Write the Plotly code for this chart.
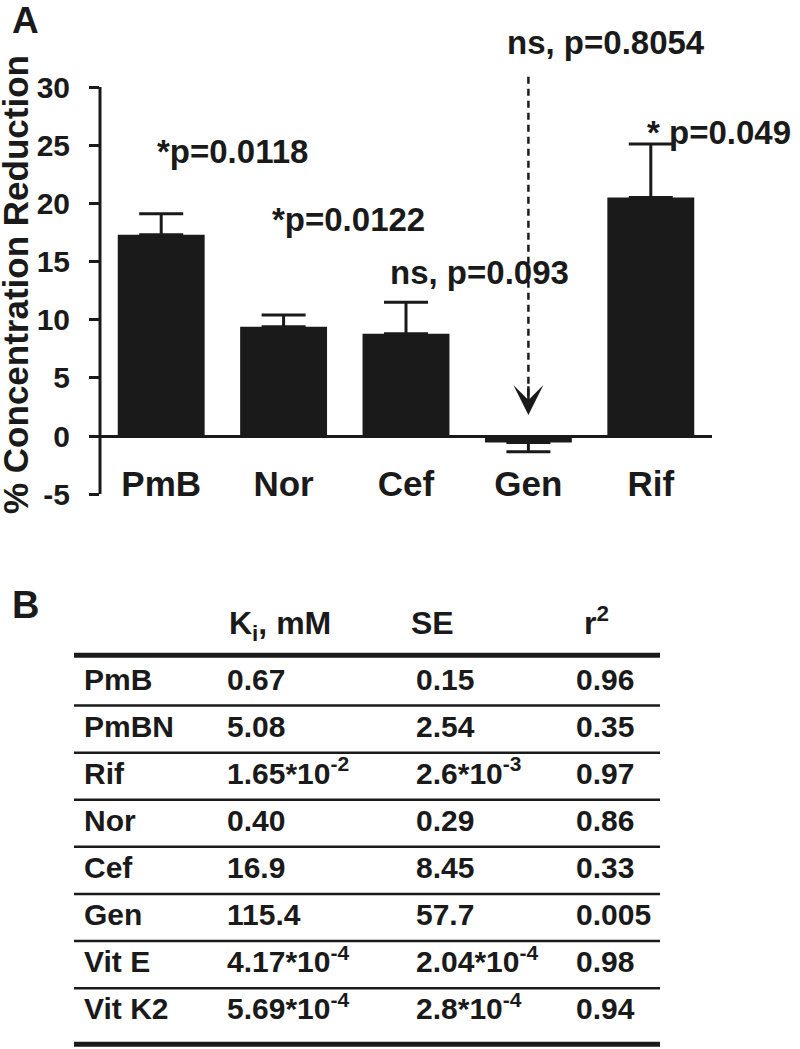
import plotly.graph_objects as go

INK = "#1a1a1a"
FONT = "Liberation Sans, Arial, sans-serif"
W, H = 800, 1049

# ---- panel A data ----
drugs = ["PmB", "Nor", "Cef", "Gen", "Rif"]
reduction = [17.3, 9.4, 8.8, -0.55, 20.5]
sem = [1.8, 1.0, 2.7, 0.8, 4.6]
y_ticks = [-5, 0, 5, 10, 15, 20, 25, 30]

p_labels = ["*p=0.0118", "*p=0.0122", "ns, p=0.093", "ns, p=0.8054", "* p=0.049"]
# label placement (category units / % units)
p_label_x = [-0.05, 0.89, 2.6, 3.63, 3.95]
p_label_y = [24.5, 18.6, 14.1, 33.8, 26.1]
p_label_anchor = ["left", "left", "center", "center", "left"]

arrow_top, arrow_tip = 30.9, 1.8

# ---- panel B data ----
table_rows = ["PmB", "PmBN", "Rif", "Nor", "Cef", "Gen", "Vit E", "Vit K2"]
ki_mM = ["0.67", "5.08", "1.65*10<sup>-2</sup>", "0.40", "16.9", "115.4",
         "4.17*10<sup>-4</sup>", "5.69*10<sup>-4</sup>"]
se = ["0.15", "2.54", "2.6*10<sup>-3</sup>", "0.29", "8.45", "57.7",
      "2.04*10<sup>-4</sup>", "2.8*10<sup>-4</sup>"]
r2 = ["0.96", "0.35", "0.97", "0.86", "0.33", "0.005", "0.98", "0.94"]
headers = ["K<sub>i</sub>, mM", "SE", "r<sup>2</sup>"]

# chart geometry: value 0 sits at zero_px, scale in px per % unit
zero_px, unit_px, y_top = 436, 11.63, 35
# table layout (x in px, rows in row units)
col_x = [84, 227, 416, 576]
head_x = [229, 411, 584]
row_h, row0_px, tbl_top_px = 47.1, 682, 580
rule_x = [74, 660]


def px_to_paper(y):
    return 1 - y / H


fig = go.Figure()

plus = [e if v >= 0 else 0 for v, e in zip(reduction, sem)]
minus = [0 if v >= 0 else e for v, e in zip(reduction, sem)]
fig.add_trace(go.Bar(
    x=drugs, y=reduction, width=0.71,
    marker=dict(color=INK, line=dict(width=0)),
    error_y=dict(type="data", symmetric=False, array=plus, arrayminus=minus,
                 color=INK, thickness=3, width=22),
    showlegend=False, hoverinfo="skip"))

gen_i = drugs.index("Gen")
fig.add_trace(go.Scatter(
    x=[drugs[gen_i]] * 2, y=[arrow_top, arrow_tip + 1.6], mode="lines",
    line=dict(color=INK, width=2.5, dash="7px,5px"),
    showlegend=False, hoverinfo="skip"))

annotations = []
for txt, ax_, ay_, anc in zip(p_labels, p_label_x, p_label_y, p_label_anchor):
    annotations.append(dict(x=ax_, y=ay_, xref="x", yref="y", text=txt,
                            showarrow=False, xanchor=anc, yanchor="middle",
                            font=dict(family=FONT, size=33, color=INK, weight="bold")))
annotations.append(dict(x=gen_i, y=arrow_tip, ax=gen_i, ay=arrow_tip + 2.6,
                        xref="x", yref="y", axref="x", ayref="y", text="",
                        showarrow=True, arrowhead=3, arrowsize=2.0,
                        arrowwidth=2.5, arrowcolor=INK))

# y axis title, centred on the -5..30 span
annotations.append(dict(x=15 / W, y=px_to_paper(285), xref="paper", yref="paper",
                        text="% Concentration Reduction", textangle=-90,
                        showarrow=False, xanchor="center", yanchor="middle",
                        font=dict(family=FONT, size=35, color=INK, weight="bold")))

# panel letters
annotations.append(dict(x=10 / W, y=px_to_paper(21), xref="paper", yref="paper",
                        text="A", showarrow=False, xanchor="left", yanchor="middle",
                        font=dict(family=FONT, size=37, color=INK, weight="bold")))
annotations.append(dict(x=10 / W, y=px_to_paper(605), xref="paper", yref="paper",
                        text="B", showarrow=False, xanchor="left", yanchor="middle",
                        font=dict(family=FONT, size=38, color=INK, weight="bold")))

# table text
n = len(table_rows)
rows_idx = list(range(n))
for cx, col in zip(col_x, [table_rows, ki_mM, se, r2]):
    fig.add_trace(go.Scatter(
        x=[cx] * n, y=rows_idx, text=col, mode="text", textposition="middle right",
        textfont=dict(family=FONT, size=30, color=INK, weight="bold"),
        xaxis="x2", yaxis="y2", showlegend=False, hoverinfo="skip"))
fig.add_trace(go.Scatter(
    x=head_x, y=[-1.19] * len(headers), text=headers, mode="text",
    textposition="middle right",
    textfont=dict(family=FONT, size=32, color=INK, weight="bold"),
    xaxis="x2", yaxis="y2", showlegend=False, hoverinfo="skip"))

shapes = [dict(type="line", xref="x domain", x0=0, x1=0, yref="y",
               y0=y_ticks[0], y1=y_ticks[-1], line=dict(color=INK, width=3))]
rules = [(-0.57, 5)] + [(r + 0.5, 2.5) for r in range(n - 1)] + [(n - 0.31, 5)]
for ry, lw in rules:
    shapes.append(dict(type="line", xref="x2", yref="y2", x0=rule_x[0], x1=rule_x[1],
                       y0=ry, y1=ry, line=dict(color=INK, width=lw)))

fig.update_layout(
    width=W, height=H, margin=dict(l=0, r=0, t=0, b=0, pad=0, autoexpand=False),
    paper_bgcolor="white", plot_bgcolor="white",
    font=dict(family=FONT, color=INK, weight="bold"),
    annotations=annotations, shapes=shapes,
    xaxis=dict(domain=[100 / W, 712 / W], type="category", range=[-0.5, 4.5],
               showline=False, showgrid=False, zeroline=False, ticks="",
               anchor="free", position=px_to_paper(460), automargin=False,
               tickfont=dict(family=FONT, size=35, color=INK, weight="bold")),
    yaxis=dict(domain=[px_to_paper(zero_px - y_ticks[0] * unit_px),
                       px_to_paper(zero_px - y_top * unit_px)],
               range=[y_ticks[0], y_top], automargin=False,
               tickvals=y_ticks, ticktext=[str(v) for v in y_ticks],
               ticks="outside", ticklen=10, tickwidth=2.5,
               tickcolor=INK, showline=False, showgrid=False,
               zeroline=True, zerolinecolor=INK, zerolinewidth=3,
               ticklabelstandoff=13,
               tickfont=dict(family=FONT, size=30, color=INK, weight="bold")),
    xaxis2=dict(domain=[0, 1], range=[0, W], visible=False, anchor="y2",
                automargin=False),
    yaxis2=dict(domain=[0, px_to_paper(tbl_top_px)],
                range=[(H - row0_px) / row_h, (tbl_top_px - row0_px) / row_h],
                visible=False, anchor="x2", automargin=False),
)

fig.write_html("out.html", config={"displayModeBar": False},
               post_script="document.body.style.margin='0';")
